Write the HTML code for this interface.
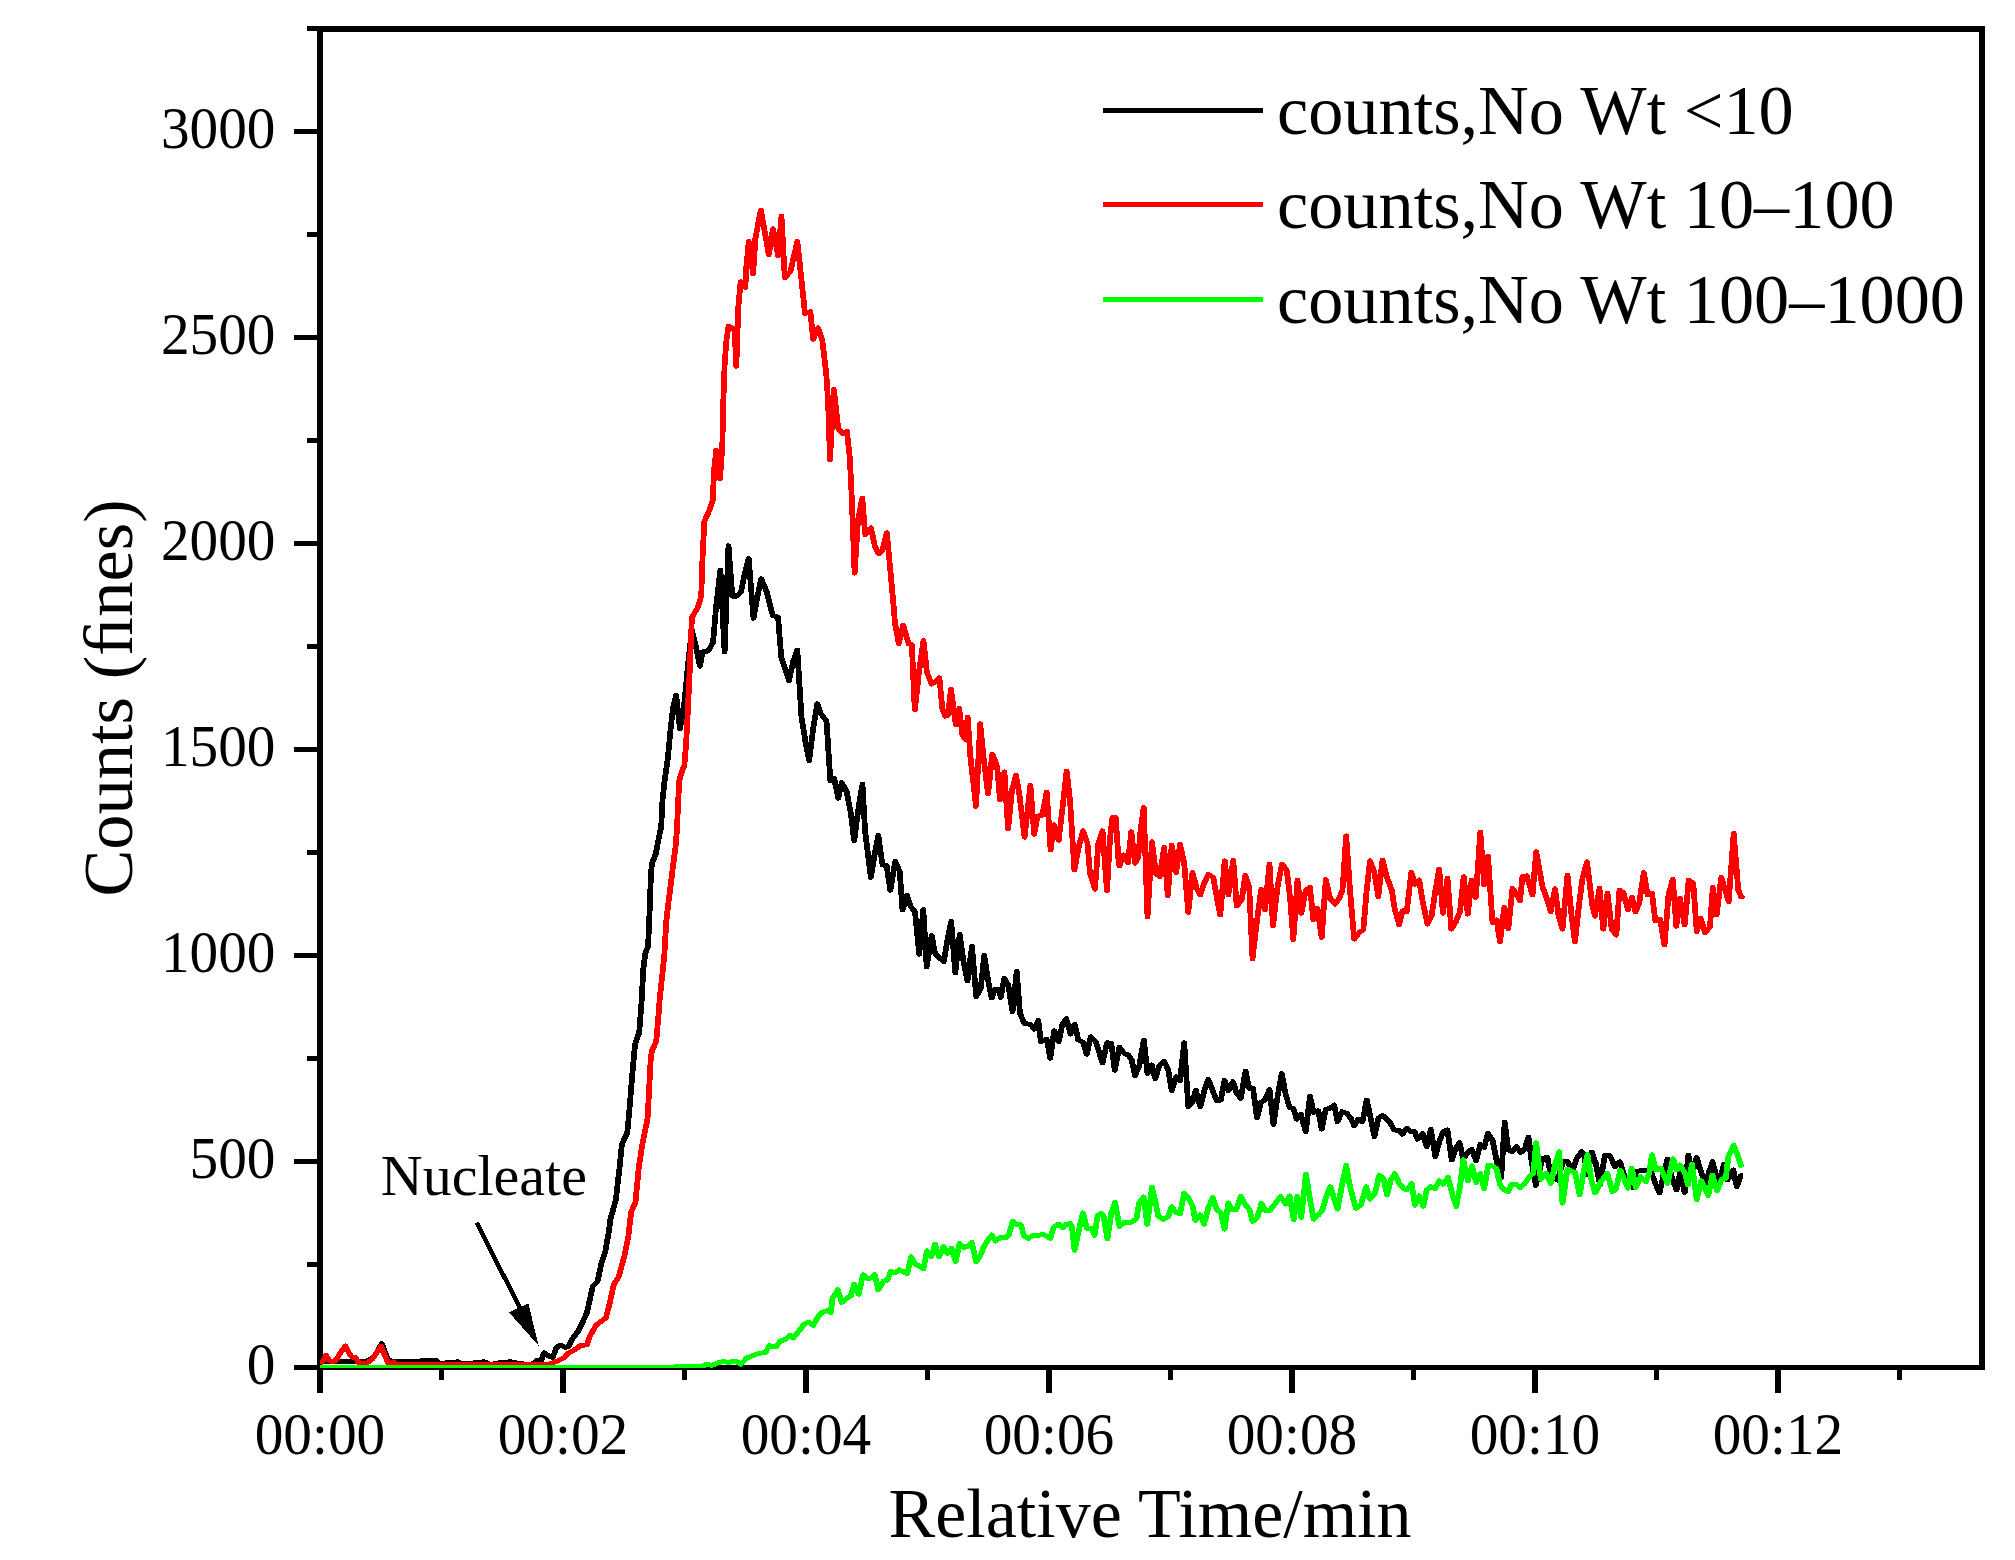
<!DOCTYPE html>
<html><head><meta charset="utf-8"><title>Counts vs Relative Time</title>
<style>html,body{margin:0;padding:0;background:#fff}body{width:2015px;height:1560px;overflow:hidden}</style></head>
<body>
<svg width="2015" height="1560" viewBox="0 0 2015 1560" style="display:block">
<rect width="2015" height="1560" fill="#fff"/>
<defs><clipPath id="cp"><rect x="320" y="29" width="1662" height="1339"/></clipPath></defs>
<path d="M317,26H1985V32H317ZM317,1365H1985V1370H317ZM317,26H323V1370H317ZM1979,26H1985V1370H1979ZM317,1370H323V1393H317ZM439,1370H444V1380H439ZM560,1370H566V1393H560ZM682,1370H687V1380H682ZM803,1370H809V1393H803ZM925,1370H930V1380H925ZM1046,1370H1052V1393H1046ZM1168,1370H1173V1380H1168ZM1289,1370H1295V1393H1289ZM1411,1370H1416V1380H1411ZM1532,1370H1538V1393H1532ZM1654,1370H1659V1380H1654ZM1775,1370H1781V1393H1775ZM1897,1370H1902V1380H1897ZM294,1365H317V1370H294ZM307,1262H317V1267H307ZM294,1159H317V1164H294ZM307,1056H317V1061H307ZM294,953H317V958H294ZM307,850H317V855H307ZM294,747H317V752H294ZM307,644H317V649H307ZM294,541H317V546H294ZM307,438H317V443H307ZM294,335H317V340H294ZM307,232H317V237H307ZM294,129H317V134H294ZM307,26H317V31H307Z" fill="#000" shape-rendering="crispEdges"/>
<g clip-path="url(#cp)"><polyline transform="scale(1.18,1)" points="271.19,1361.5 288.14,1361.5 310.17,1361.5 316.95,1357.0 323.64,1343.5 328.81,1360.0 332.20,1361.0 356.78,1361.0 357.63,1360.0 369.49,1360.0 371.61,1363.5 388.14,1361.8 392.37,1364.0 409.83,1361.8 416.53,1364.5 423.22,1362.6 432.71,1361.8 438.14,1363.0 450.00,1365.0 455.59,1360.0 458.90,1360.0 460.93,1352.8 465.00,1356.0 468.39,1357.3 471.69,1347.3 475.08,1345.2 479.15,1347.3 481.78,1346.5 485.17,1338.6 489.83,1331.4 493.22,1323.5 497.29,1313.0 499.83,1300.0 502.29,1286.5 506.36,1281.7 509.58,1263.5 512.88,1251.9 516.10,1230.8 517.29,1219.2 521.86,1200.0 525.08,1167.3 527.03,1144.2 531.61,1132.7 533.56,1107.7 535.68,1076.9 538.14,1044.2 541.69,1032.7 543.81,1000.0 545.17,969.2 546.78,953.8 549.24,946.2 550.51,911.5 551.69,873.1 552.46,863.5 555.76,853.8 558.22,838.5 560.34,826.9 561.44,800.0 563.22,780.8 566.02,757.7 568.47,726.9 570.42,707.7 573.05,695.2 576.27,728.8 580.17,701.0 583.05,665.0 586.36,630.0 589.41,645.0 593.22,666.3 595.34,651.9 600.25,651.0 604.32,642.3 606.78,607.7 610.51,570.2 614.07,651.9 617.37,545.8 620.59,596.2 623.90,596.2 627.97,592.3 631.19,573.1 634.49,558.7 638.56,618.3 641.95,596.0 645.08,578.8 649.92,592.3 654.83,615.4 659.41,617.3 662.12,657.7 665.25,668.0 668.64,680.8 672.03,662.0 675.68,650.0 679.24,717.3 682.63,742.0 685.76,760.6 688.98,730.0 692.63,703.8 695.59,713.5 700.42,721.2 703.73,780.8 706.95,778.5 710.42,798.3 713.31,782.5 717.54,791.7 721.02,813.3 723.90,840.8 727.54,808.0 730.93,784.2 733.05,830.0 737.97,877.5 741.10,855.0 744.32,835.3 747.88,865.0 751.44,865.8 754.49,890.3 758.73,861.3 762.46,871.7 764.83,910.0 768.64,895.5 771.86,906.7 775.42,911.7 778.98,954.2 782.46,909.5 785.34,967.0 789.58,935.5 792.37,953.3 795.93,957.5 799.75,961.7 802.97,940.0 806.10,921.3 809.58,973.0 813.31,934.2 816.53,962.0 819.92,980.8 823.73,946.3 827.29,996.7 831.19,988.3 834.07,955.3 837.29,980.0 840.42,998.0 843.22,989.2 846.02,989.2 848.14,997.5 851.02,978.3 854.49,985.0 858.05,1011.7 861.61,971.3 864.41,1013.3 867.97,1023.3 873.56,1024.5 876.44,1029.2 879.92,1020.3 882.03,1041.7 887.03,1039.2 890.08,1058.3 893.39,1030.8 897.20,1041.7 900.42,1024.0 903.64,1018.7 907.20,1034.2 910.76,1024.2 913.81,1040.0 918.05,1042.5 920.93,1054.2 924.41,1036.7 928.64,1041.7 931.53,1052.5 934.32,1063.0 938.14,1042.8 941.78,1043.3 944.66,1070.3 948.73,1047.2 952.71,1053.3 956.19,1055.0 959.07,1060.0 961.86,1075.8 965.42,1066.0 969.32,1040.0 972.46,1073.3 976.02,1065.0 979.07,1078.7 982.37,1065.8 986.61,1061.3 990.08,1070.0 992.97,1090.8 996.78,1076.7 1000.00,1080.8 1003.56,1042.8 1007.03,1106.7 1010.59,1102.5 1013.39,1090.0 1017.20,1106.7 1020.76,1090.0 1023.98,1079.2 1027.54,1090.0 1031.10,1100.8 1034.58,1100.0 1037.71,1080.3 1040.93,1090.8 1044.92,1081.7 1048.05,1093.3 1051.53,1098.3 1055.51,1071.2 1058.64,1088.3 1061.86,1088.3 1065.25,1118.0 1068.47,1102.5 1072.03,1100.0 1075.85,1089.5 1079.24,1124.5 1082.63,1097.0 1086.19,1073.7 1089.66,1095.0 1092.97,1107.5 1096.02,1108.3 1098.90,1119.2 1102.37,1114.2 1106.61,1131.7 1110.17,1096.2 1113.31,1112.5 1117.20,1110.8 1120.08,1129.2 1123.56,1109.2 1127.12,1108.3 1130.68,1105.0 1133.47,1121.7 1137.29,1111.7 1141.27,1113.3 1144.75,1118.3 1147.63,1125.8 1151.10,1119.2 1154.66,1121.7 1158.22,1100.0 1161.02,1115.0 1164.83,1136.7 1168.05,1118.3 1171.61,1115.3 1177.97,1122.5 1181.53,1130.0 1185.76,1130.3 1188.56,1134.2 1192.12,1128.3 1195.59,1131.7 1198.90,1131.7 1201.27,1139.2 1205.51,1133.3 1209.07,1146.7 1212.54,1129.2 1216.36,1156.7 1219.92,1141.0 1223.14,1131.7 1226.69,1130.0 1230.25,1160.0 1233.47,1149.0 1236.86,1142.5 1240.08,1159.2 1243.64,1153.0 1247.20,1149.2 1251.02,1160.8 1254.49,1144.2 1257.80,1147.5 1260.85,1133.3 1264.83,1140.0 1268.22,1160.0 1272.20,1177.5 1275.17,1122.0 1278.22,1150.0 1281.78,1151.7 1285.00,1146.5 1288.81,1152.5 1292.37,1148.3 1295.34,1137.0 1298.05,1161.7 1301.53,1185.5 1304.24,1172.0 1307.20,1158.3 1311.44,1157.5 1313.56,1171.7 1316.53,1176.0 1319.92,1180.0 1324.83,1161.7 1328.39,1161.7 1332.63,1170.8 1336.44,1158.0 1340.42,1151.7 1342.54,1155.0 1345.34,1175.0 1348.90,1152.0 1352.37,1163.3 1355.93,1185.0 1360.17,1155.0 1364.41,1155.8 1368.64,1166.7 1372.88,1161.7 1376.44,1175.0 1380.08,1182.0 1383.47,1187.5 1386.27,1171.7 1389.83,1170.8 1395.51,1170.8 1399.75,1173.3 1402.97,1184.0 1406.36,1193.0 1409.75,1175.0 1413.14,1159.2 1416.95,1178.0 1420.93,1190.0 1423.73,1173.3 1427.71,1192.5 1430.76,1155.0 1434.32,1173.3 1437.88,1157.5 1441.53,1172.0 1445.59,1183.3 1448.31,1172.0 1451.27,1161.7 1456.19,1183.3 1461.19,1164.2 1463.98,1180.0 1468.90,1170.0 1471.78,1186.7 1475.25,1175.8 1477.37,1175.8" fill="none" stroke="#000" stroke-width="4.9" stroke-linejoin="round" shape-rendering="crispEdges"/></g>
<g clip-path="url(#cp)"><polyline transform="scale(1.18,1)" points="271.19,1364.0 273.73,1361.0 276.27,1355.5 278.81,1360.0 281.36,1362.0 284.75,1360.0 288.98,1352.0 292.71,1346.0 295.76,1353.0 298.14,1357.0 301.44,1357.5 304.15,1363.0 310.17,1363.5 315.59,1359.0 319.49,1352.0 322.97,1346.5 326.27,1356.0 329.07,1363.0 331.36,1364.3 333.73,1362.0 336.44,1364.6 372.88,1364.8 423.73,1364.8 465.00,1364.4 473.05,1360.7 478.47,1357.5 481.10,1353.5 486.53,1350.3 491.86,1345.6 497.29,1344.8 500.00,1336.0 505.34,1325.0 513.47,1317.8 516.10,1305.9 517.29,1300.0 520.17,1284.6 524.32,1276.9 529.15,1255.8 532.46,1236.5 534.92,1211.5 538.47,1202.9 541.36,1167.3 544.66,1142.3 548.73,1119.2 549.83,1096.2 551.53,1057.7 552.46,1051.0 556.10,1041.3 558.05,1015.4 558.98,1000.0 561.44,973.1 563.05,953.8 564.66,921.2 566.36,903.8 568.47,884.6 570.42,865.4 572.37,848.1 573.64,830.8 574.49,807.7 575.59,780.8 577.29,774.0 580.00,765.0 581.53,742.0 582.71,715.0 584.41,673.1 585.59,638.5 586.36,617.3 591.27,607.7 594.24,596.2 595.34,557.7 596.95,521.2 601.02,510.6 603.98,500.0 605.25,469.2 606.95,450.0 610.17,478.8 612.12,446.2 612.97,401.9 614.07,365.4 615.42,342.3 617.37,326.0 622.54,329.5 623.98,366.3 625.68,307.7 627.63,281.7 631.69,287.5 632.46,267.3 634.58,241.3 638.22,274.0 640.17,238.5 644.75,210.0 647.97,230.8 651.53,254.8 655.00,228.8 659.41,255.8 662.29,216.3 665.08,277.9 670.00,271.2 675.68,241.3 678.98,276.9 682.20,313.5 686.78,311.5 689.07,339.4 693.31,327.9 696.86,340.4 700.17,373.1 701.78,401.9 703.39,459.6 706.61,389.4 710.42,428.8 714.15,433.7 717.71,431.3 720.17,457.7 721.78,496.2 724.24,573.1 727.12,520.0 730.76,498.1 733.22,534.6 738.14,527.9 741.36,546.2 744.66,553.8 747.88,550.0 751.61,532.7 754.41,569.2 756.86,600.0 758.47,623.1 761.69,643.8 765.34,625.0 770.08,644.0 772.80,644.5 773.98,678.0 775.25,710.0 778.81,672.0 782.63,640.5 785.51,672.5 789.58,684.0 792.88,682.0 796.10,677.8 798.56,708.5 801.02,716.2 803.47,715.2 805.93,689.2 810.00,724.8 812.88,708.5 815.68,735.4 818.14,739.2 820.08,717.1 822.20,754.6 827.12,806.5 830.68,723.8 833.64,758.5 837.37,794.0 840.93,754.0 845.00,766.2 847.46,799.8 851.19,771.9 854.32,828.7 857.63,790.0 861.02,775.4 863.73,793.1 868.31,837.3 873.22,785.4 876.44,834.4 879.24,816.2 883.31,815.2 887.03,792.1 890.34,849.8 893.05,824.8 897.20,840.2 900.42,808.0 903.98,771.0 906.95,802.7 910.51,870.0 913.98,848.0 917.80,830.8 921.61,843.3 923.73,873.3 927.97,889.2 930.76,843.3 934.32,830.8 938.14,890.8 940.68,838.0 942.80,817.5 945.59,817.5 948.05,863.3 948.73,865.8 952.29,855.0 955.93,862.5 958.73,831.7 961.86,863.3 964.66,856.7 966.78,828.0 969.24,807.5 972.46,916.7 976.27,841.7 979.49,873.3 982.80,876.7 986.61,847.5 989.66,895.8 992.97,845.0 996.78,872.5 1000.00,844.2 1003.56,863.3 1007.03,912.5 1010.59,872.5 1013.98,888.0 1017.20,895.0 1020.51,883.3 1023.98,874.2 1028.22,877.5 1031.10,896.7 1034.15,915.0 1037.88,860.8 1040.93,895.0 1045.17,860.3 1048.05,905.8 1052.29,900.0 1055.34,875.0 1058.64,886.7 1061.44,958.7 1065.00,923.0 1068.81,889.2 1072.03,910.0 1075.85,864.2 1078.81,925.8 1082.63,887.0 1086.44,864.2 1090.42,870.0 1093.22,896.7 1096.02,939.7 1099.58,880.0 1102.80,913.3 1106.61,890.0 1110.17,887.5 1112.97,920.0 1116.53,908.3 1120.08,937.5 1123.56,879.5 1127.12,898.3 1131.36,904.2 1134.92,898.3 1137.71,890.0 1140.85,835.8 1144.07,890.0 1147.63,939.2 1151.86,932.5 1155.34,930.0 1158.22,890.0 1161.02,860.8 1164.58,871.7 1168.05,896.7 1171.61,860.0 1175.17,876.7 1179.41,890.0 1182.20,910.0 1185.76,925.0 1188.56,910.8 1192.12,911.7 1196.02,872.5 1199.15,884.2 1202.71,880.0 1205.93,903.0 1209.75,924.2 1213.31,915.0 1216.53,890.0 1219.66,869.2 1222.88,913.3 1226.69,878.0 1229.92,929.2 1233.73,921.7 1237.29,911.7 1240.42,876.7 1243.90,914.2 1247.20,880.0 1250.68,897.5 1254.49,832.0 1257.80,885.0 1261.02,856.2 1264.83,922.5 1268.39,920.0 1271.19,942.0 1274.75,907.5 1278.22,928.7 1281.78,888.3 1284.58,893.3 1288.14,900.8 1290.25,876.7 1293.81,875.8 1298.73,895.0 1301.86,851.7 1307.20,886.7 1310.76,898.3 1314.24,911.7 1317.80,888.7 1320.76,915.0 1324.15,929.2 1328.39,875.0 1331.78,915.0 1334.75,942.0 1338.14,905.0 1341.10,878.3 1344.92,861.7 1349.58,906.7 1351.69,916.3 1355.51,888.3 1358.73,929.2 1362.29,893.0 1365.85,929.2 1369.75,935.0 1372.46,890.0 1375.68,892.5 1379.66,910.0 1383.05,897.2 1386.02,912.0 1389.15,903.3 1393.05,872.5 1396.19,895.0 1400.00,893.0 1402.80,920.8 1406.78,919.2 1410.59,945.0 1413.98,895.0 1417.63,879.2 1420.59,926.3 1423.73,898.3 1427.71,925.0 1431.10,880.0 1435.00,883.3 1437.88,931.7 1441.36,918.3 1444.92,933.0 1449.15,926.7 1451.53,887.2 1454.83,915.0 1458.73,877.2 1465.00,901.7 1469.24,833.3 1473.14,890.0 1475.68,897.0 1477.37,895.0" fill="none" stroke="#f00" stroke-width="4.9" stroke-linejoin="round" shape-rendering="crispEdges"/></g>
<g clip-path="url(#cp)"><polyline transform="scale(1.18,1)" points="271.19,1367.5 542.37,1367.5 594.66,1366.5 598.90,1364.2 603.14,1365.5 607.37,1363.3 612.97,1361.3 617.20,1362.5 621.44,1361.3 624.58,1361.8 627.80,1364.2 632.80,1358.0 638.39,1355.3 643.39,1353.3 648.98,1352.5 651.86,1345.8 657.46,1346.7 661.69,1340.8 665.93,1339.2 669.24,1335.3 672.29,1338.0 676.53,1331.7 681.53,1324.2 685.00,1322.0 689.24,1325.3 692.80,1317.5 696.36,1312.5 700.59,1310.8 704.07,1312.5 705.51,1298.3 710.17,1289.7 713.31,1302.5 717.54,1298.3 721.02,1295.8 723.90,1284.2 727.71,1294.2 731.36,1274.7 735.17,1278.3 738.73,1278.0 741.27,1274.7 744.32,1290.0 748.56,1281.4 751.78,1280.3 755.00,1271.6 758.73,1272.7 761.95,1269.9 765.68,1271.6 768.90,1273.7 772.12,1256.8 775.34,1263.9 779.07,1266.1 782.63,1268.8 785.51,1250.8 789.24,1256.8 792.46,1244.3 795.76,1256.8 799.58,1246.5 802.97,1253.5 806.36,1248.1 809.83,1261.7 813.14,1243.7 817.03,1247.5 819.75,1246.5 823.47,1242.1 827.20,1261.7 830.85,1255.7 833.64,1247.0 837.29,1240.0 840.59,1235.0 843.81,1241.0 847.54,1237.7 852.20,1237.7 854.92,1235.0 858.22,1221.3 861.44,1224.6 865.08,1224.6 867.88,1236.1 871.61,1238.3 876.19,1235.0 879.92,1235.5 883.64,1234.4 886.86,1236.0 890.08,1238.3 892.88,1227.3 897.03,1224.1 900.76,1227.9 903.39,1224.5 906.78,1223.5 908.47,1227.0 910.68,1250.3 913.98,1232.0 917.71,1212.9 921.10,1228.4 924.83,1228.4 927.63,1235.2 930.08,1216.0 932.97,1213.4 935.25,1216.1 938.56,1239.0 941.78,1213.0 945.00,1202.4 948.73,1226.5 952.37,1222.6 958.90,1222.1 963.05,1218.8 965.34,1203.0 969.24,1197.0 972.29,1224.3 976.27,1187.5 979.24,1202.0 981.53,1216.1 985.76,1219.4 990.34,1216.1 992.97,1206.8 996.86,1212.8 1000.08,1213.9 1003.47,1193.4 1007.03,1197.5 1010.68,1206.3 1013.05,1220.4 1017.20,1214.8 1020.42,1224.3 1024.15,1207.3 1027.80,1197.5 1031.02,1209.5 1034.75,1212.8 1037.71,1229.2 1041.02,1202.8 1043.98,1209.5 1047.71,1209.5 1051.44,1196.4 1055.08,1204.1 1058.81,1209.5 1061.61,1221.5 1065.25,1218.3 1068.98,1203.5 1071.78,1210.1 1076.44,1210.1 1081.02,1203.0 1085.17,1196.5 1089.49,1204.1 1092.88,1195.9 1096.36,1219.8 1099.49,1196.3 1102.80,1217.4 1106.78,1174.1 1110.17,1200.0 1113.31,1219.2 1117.20,1215.0 1120.76,1210.0 1124.32,1195.0 1127.37,1186.7 1130.51,1198.0 1133.47,1209.2 1137.03,1186.7 1140.85,1165.3 1144.07,1186.7 1148.98,1208.3 1153.22,1205.0 1157.88,1186.7 1161.02,1199.2 1165.25,1193.3 1168.81,1175.3 1172.29,1178.3 1175.59,1195.0 1178.64,1180.0 1181.95,1173.7 1185.76,1183.3 1189.24,1188.3 1192.37,1190.0 1196.36,1183.7 1199.15,1205.3 1202.71,1195.8 1206.19,1206.3 1209.07,1190.0 1212.54,1186.7 1216.10,1188.7 1219.66,1180.8 1223.14,1184.2 1227.12,1177.5 1230.25,1191.7 1234.07,1206.7 1237.29,1186.7 1240.08,1159.7 1243.90,1180.8 1247.46,1165.8 1251.02,1182.5 1254.49,1173.7 1257.80,1188.7 1261.27,1165.0 1264.83,1165.8 1268.39,1169.2 1271.19,1185.0 1274.75,1190.0 1278.22,1191.7 1281.10,1184.2 1285.00,1184.5 1288.14,1188.0 1292.37,1183.3 1296.61,1175.8 1299.41,1173.3 1301.86,1142.8 1305.08,1173.0 1305.76,1179.2 1310.00,1173.3 1314.24,1183.3 1317.80,1165.0 1321.36,1151.7 1324.15,1203.3 1328.39,1169.2 1334.75,1172.5 1338.73,1195.0 1341.78,1173.3 1345.34,1154.7 1348.90,1181.7 1351.95,1193.0 1356.61,1181.7 1362.03,1173.3 1366.53,1191.7 1369.49,1189.0 1373.14,1170.0 1376.69,1180.0 1379.66,1188.3 1382.80,1168.0 1386.27,1187.5 1390.51,1176.7 1394.75,1181.7 1397.63,1173.3 1400.00,1154.7 1403.22,1170.0 1407.46,1168.3 1413.14,1183.3 1417.80,1158.7 1420.93,1170.0 1423.73,1165.0 1427.97,1173.3 1430.51,1185.0 1433.90,1164.2 1437.88,1199.7 1441.69,1180.8 1447.71,1195.8 1451.27,1175.0 1455.08,1190.8 1459.07,1179.2 1462.54,1178.3 1464.66,1156.7 1469.24,1145.3 1472.46,1155.0 1476.02,1167.5" fill="none" stroke="#0f0" stroke-width="4.9" stroke-linejoin="round" shape-rendering="crispEdges"/></g>
<g font-family="'Liberation Serif', 'Times New Roman', serif" fill="#000">
<text x="320.0" y="1453.6" font-size="58.6" text-anchor="middle" textLength="130.6" lengthAdjust="spacingAndGlyphs">00:00</text>
<text x="563.0" y="1453.6" font-size="58.6" text-anchor="middle" textLength="130.6" lengthAdjust="spacingAndGlyphs">00:02</text>
<text x="806.0" y="1453.6" font-size="58.6" text-anchor="middle" textLength="130.6" lengthAdjust="spacingAndGlyphs">00:04</text>
<text x="1049.0" y="1453.6" font-size="58.6" text-anchor="middle" textLength="130.6" lengthAdjust="spacingAndGlyphs">00:06</text>
<text x="1292.0" y="1453.6" font-size="58.6" text-anchor="middle" textLength="130.6" lengthAdjust="spacingAndGlyphs">00:08</text>
<text x="1535.0" y="1453.6" font-size="58.6" text-anchor="middle" textLength="130.6" lengthAdjust="spacingAndGlyphs">00:10</text>
<text x="1778.0" y="1453.6" font-size="58.6" text-anchor="middle" textLength="130.6" lengthAdjust="spacingAndGlyphs">00:12</text>
<text x="275.5" y="1383.7" font-size="58.6" text-anchor="end" textLength="28.7" lengthAdjust="spacingAndGlyphs">0</text>
<text x="275.5" y="1177.7" font-size="58.6" text-anchor="end" textLength="86.0" lengthAdjust="spacingAndGlyphs">500</text>
<text x="275.5" y="971.7" font-size="58.6" text-anchor="end" textLength="114.6" lengthAdjust="spacingAndGlyphs">1000</text>
<text x="275.5" y="765.7" font-size="58.6" text-anchor="end" textLength="114.6" lengthAdjust="spacingAndGlyphs">1500</text>
<text x="275.5" y="559.7" font-size="58.6" text-anchor="end" textLength="114.6" lengthAdjust="spacingAndGlyphs">2000</text>
<text x="275.5" y="353.7" font-size="58.6" text-anchor="end" textLength="114.6" lengthAdjust="spacingAndGlyphs">2500</text>
<text x="275.5" y="147.7" font-size="58.6" text-anchor="end" textLength="114.6" lengthAdjust="spacingAndGlyphs">3000</text>
<text x="1150" y="1536.5" font-size="70" text-anchor="middle">Relative Time/min</text>
<text transform="translate(131.7,698) rotate(-90)" font-size="70.5" text-anchor="middle">Counts (ﬁnes)</text>
<text x="380.8" y="1195.2" font-size="58">Nucleate</text>
<rect x="1103" y="108" width="159.5" height="5" fill="#000" shape-rendering="crispEdges"/>
<text x="1277" y="133.5" font-size="70.3">counts,No Wt &lt;10</text>
<rect x="1103" y="202" width="159.5" height="5" fill="#f00" shape-rendering="crispEdges"/>
<text x="1277" y="227.5" font-size="70.3">counts,No Wt 10–100</text>
<rect x="1103" y="297" width="159.5" height="5" fill="#0f0" shape-rendering="crispEdges"/>
<text x="1277" y="322.5" font-size="70.3">counts,No Wt 100–1000</text>
</g>
<line x1="476.7" y1="1222.5" x2="525" y2="1318" stroke="#000" stroke-width="4.5" shape-rendering="crispEdges"/>
<polygon points="538.7,1345.8 509.2,1312.5 528.3,1303.3" fill="#000" shape-rendering="crispEdges"/>
</svg>
</body></html>
